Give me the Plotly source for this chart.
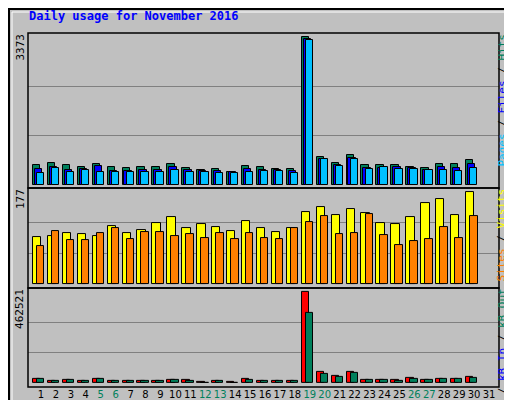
import plotly.graph_objects as go

days = list(range(1, 32))
day_labels = [str(d) for d in days]
weekend_days = [5, 6, 12, 13, 19, 20, 26, 27]

hits = [443,488,443,397,465,397,374,397,397,465,374,328,351,282,420,397,351,351,3373,626,488,671,443,443,443,397,374,465,465,557,None]
files = [351,397,328,351,420,305,305,328,328,397,328,305,305,282,351,328,328,305,3342,580,443,603,374,374,397,374,328,397,374,465,None]
pages = [259,374,282,328,282,282,282,282,282,328,282,282,259,259,282,305,305,259,3304,580,420,580,351,397,351,351,328,328,305,374,None]
visits = [90,92,98,96,92,112,98,104,117,129,108,115,110,102,121,108,100,108,140,148,133,144,137,117,115,129,156,165,133,177,None]
sites = [73,102,85,85,98,108,87,100,100,92,96,88,98,87,98,88,87,108,119,131,96,98,135,94,75,83,87,110,88,131,None]
kbf_px = [12,6,9,6,12,6,6,6,6,9,9,3,6,3,12,6,6,6,273,33,21,33,9,9,9,15,9,12,12,18,None]
kbout_px = [12,6,9,6,12,6,6,6,6,9,6,2,6,2,9,6,6,6,210,27,18,30,9,9,6,12,9,12,12,15,None]
kb_f = [v * 1694 if v is not None else None for v in kbf_px]
kb_out = [v * 1694 if v is not None else None for v in kbout_px]

max_hits, max_visits, max_kb = 3373, 177, 462521

fig = go.Figure()
line = dict(color="black", width=1)

def bar(y, color, off, w, ax):
    fig.add_trace(go.Bar(x=days, y=y, marker=dict(color=color, line=line),
                         offset=off, width=w, xaxis="x", yaxis=ax, showlegend=False))

bar(hits, "#00805c", -0.54, 0.49, "y")
bar(files, "#0000ff", -0.41, 0.49, "y")
bar(pages, "#00c0ff", -0.27, 0.49, "y")
bar(visits, "#ffff00", -0.54, 0.56, "y2")
bar(sites, "#ff8000", -0.27, 0.5, "y2")
bar(kb_f, "#ff0000", -0.54, 0.49, "y3")
bar(kb_out, "#00805c", -0.27, 0.49, "y3")

ticktext = [f"<span style='color:#00805c'>{l}</span>" if d in weekend_days else l
            for d, l in zip(days, day_labels)]

grid = dict(showgrid=True, gridcolor="#808080", gridwidth=1, showticklabels=False,
            zeroline=False, ticks="", showline=False)

fig.update_layout(
    width=512, height=400, barmode="overlay",
    paper_bgcolor="#c0c0c0", plot_bgcolor="#c0c0c0",
    margin=dict(l=20, r=21, t=25, b=21),
    font=dict(family="DejaVu Sans Mono", size=11, color="black"),
    xaxis=dict(range=[0.13, 31.67], tickvals=days, ticktext=ticktext, ticks="", tickangle=0,
               showgrid=False, zeroline=False, anchor="y3", automargin=False,
               tickfont=dict(family="DejaVu Sans", size=10)),
    yaxis=dict(domain=[0.562, 1], range=[-75, 3471], tickvals=[max_hits/3, 2*max_hits/3], **grid),
    yaxis2=dict(domain=[0.28, 0.562], range=[-7.1, 185.3], tickvals=[max_visits/3, 2*max_visits/3], **grid),
    yaxis3=dict(domain=[0, 0.28], range=[-18800, 484000], tickvals=[max_kb/3, 2*max_kb/3], **grid),
    bargap=0,
)

shapes = []
for y0, y1 in [(0.562, 1), (0.28, 0.562), (0, 0.28)]:
    shapes.append(dict(type="rect", xref="paper", yref="paper", x0=0, x1=1, y0=y0, y1=y1,
                       line=dict(color="black", width=1.5)))
shapes.append(dict(type="rect", xref="paper", yref="paper", x0=-19/471, x1=1+20/471,
                   y0=-20/354, y1=1+24/354, line=dict(color="black", width=2)))
shapes.append(dict(type="rect", xref="paper", yref="paper", x0=-16/471, x1=1+17/471,
                   y0=-17/354, y1=1+21/354, line=dict(color="white", width=1)))
fig.update_layout(shapes=shapes)

def side(text, x, y):
    return dict(text=text, x=x, y=y, xref="paper", yref="paper", textangle=-90,
                xanchor="center", yanchor="top", showarrow=False, font=dict(size=11),
                borderpad=0)

ann = [
    dict(text="<b>Daily usage for November 2016</b>", x=-1/471, y=1+17/354, xref="paper", yref="paper",
         xanchor="left", yanchor="middle", showarrow=False,
         font=dict(family="DejaVu Sans Mono", size=12, color="#0000ff")),
    side(str(max_hits), -8/471, 1),
    side(str(max_visits), -8/471, 0.562),
    side(str(max_kb), -8/471, 0.28),
    side("<span style='color:#00c0ff'>Pages</span> / <span style='color:#0000ff'>Files</span> / <span style='color:#00805c'>Hits</span>", 1 + 3/471, 1),
    side("<span style='color:#ff8000'>Sites</span> / <span style='color:#ffff00'>Visits</span>", 1 + 3/471, 0.562),
    side("<span style='color:#ff0000'>kB F</span> / <span style='color:#0000ff'>kB In</span> / <span style='color:#00805c'>kB Out</span>", 1 + 3/471, 0.28),
]
fig.update_layout(annotations=ann)

fig.write_html("out.html")
